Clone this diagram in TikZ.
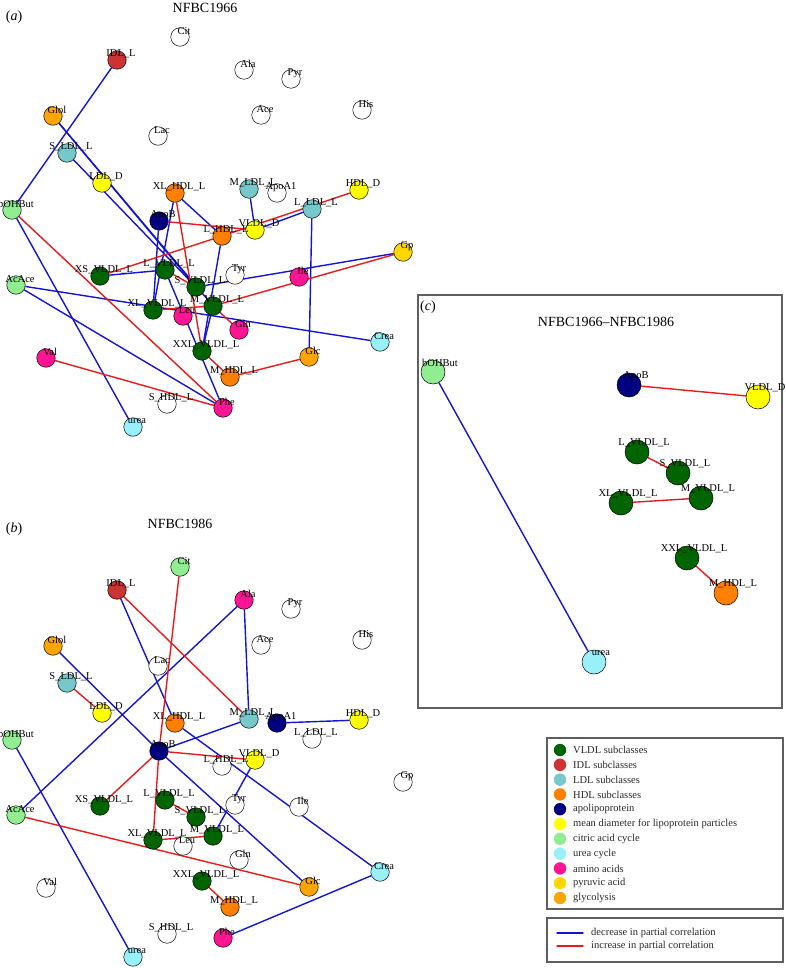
\documentclass[tikz,border=0pt]{standalone}
\usepackage{fontspec}
\setmainfont{Liberation Serif}
\usetikzlibrary{backgrounds}
\definecolor{vldlc}{RGB}{0,100,0}
\definecolor{idlc}{RGB}{205,51,51}
\definecolor{ldlc}{RGB}{118,200,202}
\definecolor{hdlc}{RGB}{255,127,0}
\definecolor{apoc}{RGB}{0,0,128}
\definecolor{diamc}{RGB}{255,255,0}
\definecolor{tcac}{RGB}{144,238,144}
\definecolor{ureac}{RGB}{152,240,250}
\definecolor{aminoc}{RGB}{255,20,147}
\definecolor{pyrc}{RGB}{255,215,0}
\definecolor{glycc}{RGB}{255,165,0}
\definecolor{decc}{RGB}{20,20,215}
\definecolor{incc}{RGB}{235,25,25}
\definecolor{framec}{RGB}{95,95,95}
\definecolor{legc}{RGB}{40,40,40}

% shared layout of panels (a) and (b): name/x/y/label/colour in (a)/colour in (b)
\def\layout{Cit/180/37/Cit/white/tcac, IDLL/117/60/IDL\_L/idlc/idlc,
  Ala/244/70/Ala/white/aminoc, Pyr/291/79/Pyr/white/white,
  Ace/261/115/Ace/white/white, His/362/110/His/white/white,
  Lac/158/136/Lac/white/white, Glol/53/116/Glol/glycc/glycc,
  SLDLL/67/153/S\_LDL\_L/ldlc/ldlc, LDLD/102/183/LDL\_D/diamc/diamc,
  XLHDLL/175/193/XL\_HDL\_L/hdlc/hdlc, MLDLL/249/189/M\_LDL\_L/ldlc/ldlc,
  ApoAI/277/193/ApoA1/white/apoc, HDLD/359/190/HDL\_D/diamc/diamc,
  bOHBut/12/210/bOHBut/tcac/tcac, ApoB/159/221/ApoB/apoc/apoc,
  LHDLL/222/236/L\_HDL\_L/hdlc/white, VLDLD/255/230/VLDL\_D/diamc/diamc,
  LLDLL/312/209/L\_LDL\_L/ldlc/white, Gp/403/252/Gp/pyrc/white,
  XSVLDLL/100/276/XS\_VLDL\_L/vldlc/vldlc, LVLDLL/165/270/L\_VLDL\_L/vldlc/vldlc,
  Tyr/235/275/Tyr/white/white, SVLDLL/196/287/S\_VLDL\_L/vldlc/vldlc,
  Ile/299/277/Ile/aminoc/white, AcAce/16/285/AcAce/tcac/tcac,
  XLVLDLL/153/310/XL\_VLDL\_L/vldlc/vldlc, MVLDLL/213/306/M\_VLDL\_L/vldlc/vldlc,
  Leu/183/316/Leu/aminoc/white, Gln/239/330/Gln/aminoc/white,
  Crea/380/342/Crea/ureac/ureac, XXLVLDLL/202/351/XXL\_VLDL\_L/vldlc/vldlc,
  Val/46/358/Val/aminoc/white, Glc/309/357/Glc/glycc/glycc,
  MHDLL/230/377/M\_HDL\_L/hdlc/hdlc, SHDLL/167/404/S\_HDL\_L/white/white,
  Phe/223/408/Phe/aminoc/aminoc, urea/133/427/urea/ureac/ureac}

\begin{document}
\begin{tikzpicture}[x=1pt, y=-1pt, line cap=round,
  met/.style={circle, draw=black, line width=0.5pt, minimum size=18.5pt, inner sep=0pt},
  bigmet/.style={met, minimum size=24pt},
  lab/.style={font=\fontsize{10.5}{11}\selectfont, inner sep=0pt},
  legtxt/.style={font=\fontsize{10.5}{11}\selectfont, text=legc, inner sep=0pt, anchor=west},
  ttl/.style={font=\fontsize{14}{16}\selectfont, inner sep=0pt},
  dec/.style={decc, line width=1.4pt},
  inc/.style={incc, line width=1.4pt},
  frame/.style={draw=framec, line width=1.4pt}]
  \useasboundingbox (0,0) rectangle (785,968);

  % panel letters and titles
  \node[ttl] (lta) at (14,17) {(\textit{a})};
  \node[ttl] (tta) at (205,8) {NFBC1966};
  \node[ttl] (ltb) at (14,529) {(\textit{b})};
  \node[ttl] (ttb) at (180,524) {NFBC1986};

  % metabolites of (a) and (b), (b) sits 530 lower
  \foreach \n/\x/\y/\t/\ca/\cb in \layout {
    \node[met, fill=\ca] (a\n) at (\x,\y) {};
    \node[met, fill=\cb] (b\n) at (\x,\y+530) {};
  }

  \begin{scope}[on background layer]
    % (a) decreases
    \foreach \u/\v in {IDLL/bOHBut, bOHBut/urea, AcAce/Phe, AcAce/Crea,
      MLDLL/VLDLD, VLDLD/LLDLL, LLDLL/Glc, SVLDLL/Gp, XSVLDLL/LVLDLL,
      ApoB/XLVLDLL, XLHDLL/XLVLDLL, XLHDLL/LHDLL, LHDLL/XXLVLDLL,
      LVLDLL/Phe, Glol/SVLDLL, Glol/MVLDLL, SLDLL/SVLDLL, MVLDLL/XXLVLDLL}
      \draw[dec] (a\u) -- (a\v);
    % (a) increases
    \foreach \u/\v in {bOHBut/Phe, Val/Phe, ApoB/VLDLD, XSVLDLL/LHDLL,
      LHDLL/HDLD, MVLDLL/Gp, LVLDLL/SVLDLL, MVLDLL/Gln, XLVLDLL/MVLDLL,
      XXLVLDLL/MHDLL, MHDLL/Glc, XLHDLL/XXLVLDLL}
      \draw[inc] (a\u) -- (a\v);
    % (b) decreases
    \foreach \u/\v in {IDLL/XLHDLL, XLHDLL/Crea, Ala/AcAce, Ala/MLDLL,
      Glol/ApoB, ApoB/Glc, ApoB/MLDLL, ApoAI/HDLD, VLDLD/MVLDLL,
      Crea/Phe, bOHBut/urea}
      \draw[dec] (b\u) -- (b\v);
    % (b) increases
    \foreach \u/\v in {Cit/ApoB, ApoB/XLVLDLL, IDLL/MLDLL, SLDLL/LDLD,
      ApoB/VLDLD, ApoB/XSVLDLL, LVLDLL/SVLDLL, XLVLDLL/MVLDLL,
      AcAce/Glc, XXLVLDLL/MHDLL}
      \draw[inc] (b\u) -- (b\v);
  \end{scope}

  \foreach \n/\x/\y/\t/\ca/\cb in \layout {
    \node[lab] at ([xshift=4pt,yshift=6pt]a\n.center) {\t};
    \node[lab] at ([xshift=4pt,yshift=6pt]b\n.center) {\t};
  }

  % panel (c): differences
  \draw[frame] (418,295) rectangle (782,708);
  \node[ttl] (ltc) at (428,307) {(\textit{c})};
  \node[ttl] (ttc) at (606,322) {NFBC1966--NFBC1986};
  \foreach \n/\x/\y/\t/\c in {bOHBut/433/372/bOHBut/tcac, ApoB/629/385/ApoB/apoc,
    VLDLD/758/397/VLDL\_D/diamc, LVLDLL/637/452/L\_VLDL\_L/vldlc,
    SVLDLL/678/473/S\_VLDL\_L/vldlc, XLVLDLL/621/503/XL\_VLDL\_L/vldlc,
    MVLDLL/701/498/M\_VLDL\_L/vldlc, XXLVLDLL/687/558/XXL\_VLDL\_L/vldlc,
    MHDLL/726/593/M\_HDL\_L/hdlc, urea/594/662/urea/ureac}
    \node[bigmet, fill=\c] (c\n) at (\x,\y) {};
  \begin{scope}[on background layer]
    \draw[dec] (cbOHBut) -- (curea);
    \foreach \u/\v in {ApoB/VLDLD, LVLDLL/SVLDLL, XLVLDLL/MVLDLL, XXLVLDLL/MHDLL}
      \draw[inc] (c\u) -- (c\v);
  \end{scope}
  \foreach \n/\t in {bOHBut/bOHBut, ApoB/ApoB, VLDLD/VLDL\_D, LVLDLL/L\_VLDL\_L,
    SVLDLL/S\_VLDL\_L, XLVLDLL/XL\_VLDL\_L, MVLDLL/M\_VLDL\_L,
    XXLVLDLL/XXL\_VLDL\_L, MHDLL/M\_HDL\_L, urea/urea}
    \node[lab] at ([xshift=7pt,yshift=9pt]c\n.center) {\t};

  % colour legend
  \draw[frame] (547,738) rectangle (783,909);
  \foreach \c/\t [count=\i from 0] in {vldlc/VLDL subclasses, idlc/IDL subclasses,
    ldlc/LDL subclasses, hdlc/HDL subclasses, apoc/apolipoprotein,
    diamc/mean diameter for lipoprotein particles, tcac/citric acid cycle,
    ureac/urea cycle, aminoc/amino acids, pyrc/pyruvic acid, glycc/glycolysis} {
    \fill[\c] (560,750+14.8*\i) circle (6.2pt);
    \node[legtxt] (leg\i) at (573,750+14.8*\i) {\t};
  }

  % line legend
  \draw[frame] (547,918) rectangle (783,962);
  \coordinate (dl) at (557,933); \coordinate (dr) at (583,933);
  \coordinate (il) at (557,946); \coordinate (ir) at (583,946);
  \draw[dec] (dl) -- (dr);
  \draw[inc] (il) -- (ir);
  \node[legtxt] (ldec) at (591,933) {decrease in partial correlation};
  \node[legtxt] (linc) at (591,946) {increase in partial correlation};
\end{tikzpicture}
\end{document}
